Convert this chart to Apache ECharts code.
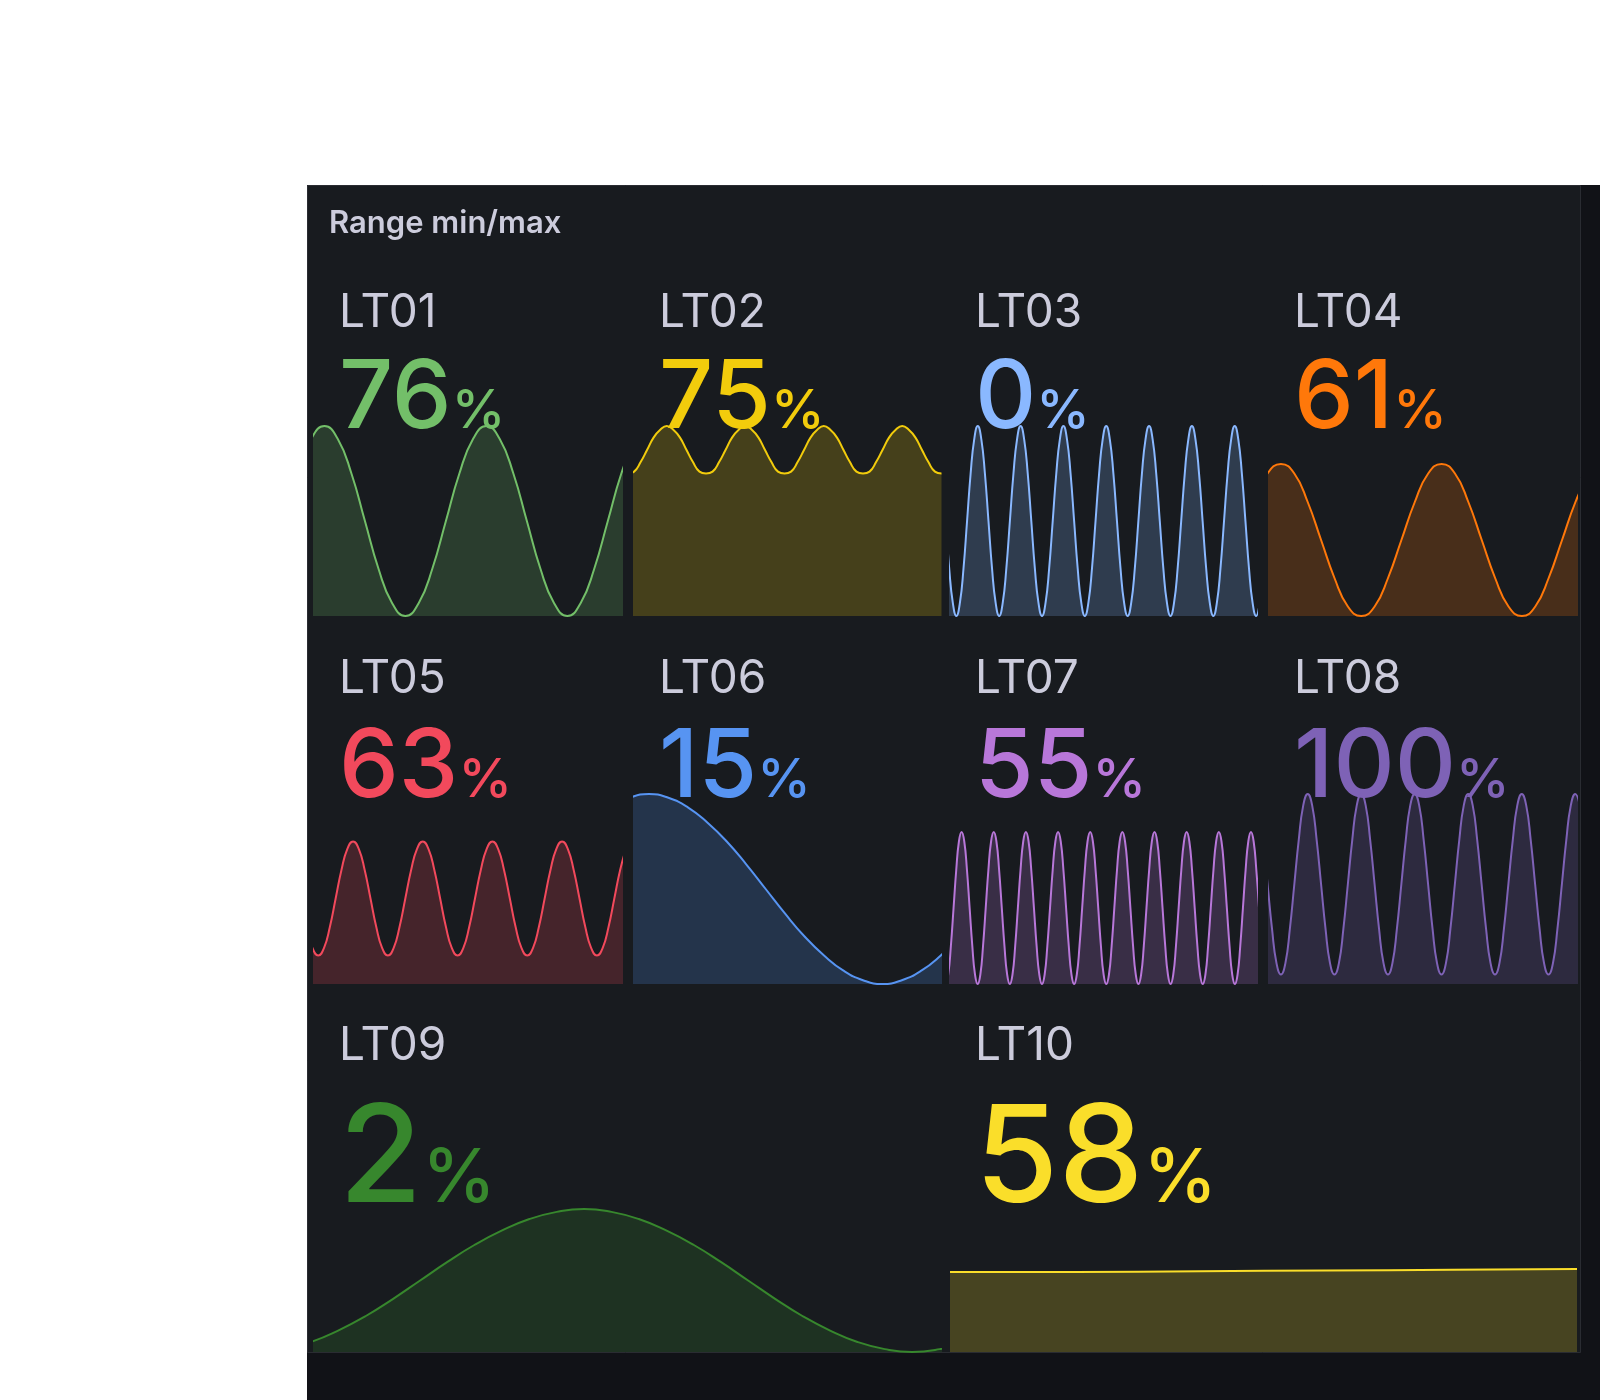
<!DOCTYPE html>
<html>
<head>
<meta charset="utf-8">
<title>Range min/max</title>
<script src="https://cdn.jsdelivr.net/npm/echarts@6/dist/echarts.min.js"></script>
<style>
  html, body { margin: 0; padding: 0; background: #ffffff; }
  #chart { width: 1600px; height: 1400px; }
</style>
</head>
<body>
<div id="chart"></div>
<script>
// --- data (values on the 0-100 range of each stat, sampled along the sparkline) ---
const names = ['LT01', 'LT02', 'LT03', 'LT04', 'LT05', 'LT06', 'LT07', 'LT08', 'LT09', 'LT10'];
const lastValues = [76, 75, 0, 61, 63, 15, 55, 100, 2, 58];
const unit = '%';

const lt01 = [75, 93, 100, 93, 75, 50, 25, 7, 0, 7, 25, 50,
              75, 93, 100, 93, 75, 50, 25, 7, 0, 7, 25, 50,
              75, 93];
const lt02 = [75, 76, 81, 87.5, 94, 98, 100, 98, 94, 87.5, 81, 76,
              75, 76, 81, 87.5, 94, 98, 100, 98, 94, 87.5, 81, 76,
              75, 76, 81, 87.5, 94, 98, 100, 98, 94, 87.5, 81, 76,
              75, 76, 81, 87.5, 94, 98, 100, 98, 94, 87.5, 81, 76,
              75];
const lt03 = [50, 25, 7, 0, 7, 25, 50, 75, 93,
              100, 93, 75, 50, 25, 7, 0, 7, 25, 50, 75, 93,
              100, 93, 75, 50, 25, 7, 0, 7, 25, 50, 75, 93,
              100, 93, 75, 50, 25, 7, 0, 7, 25, 50, 75, 93,
              100, 93, 75, 50, 25, 7, 0, 7, 25, 50, 75, 93,
              100, 93, 75, 50, 25, 7, 0, 7, 25, 50, 75, 93,
              100, 93, 75, 50, 25, 7, 0, 7, 25, 50, 75, 93,
              100, 93, 75, 50, 25, 7, 0, 7];
const lt04 = [60, 75, 80, 75, 60, 40, 20, 5, 0, 5, 20, 40,
              60, 75, 80, 75, 60, 40, 20, 5, 0, 5, 20, 40,
              60, 75];
const lt05 = [30, 19, 15, 19, 30, 45, 60, 71,
              75, 71, 60, 45, 30, 19, 15, 19, 30, 45, 60, 71,
              75, 71, 60, 45, 30, 19, 15, 19, 30, 45, 60, 71,
              75, 71, 60, 45, 30, 19, 15, 19, 30, 45, 60, 71,
              75, 71, 60, 45, 30, 19, 15, 19, 30, 45, 60, 71];
const lt06 = [93, 98, 100, 98, 93, 85, 75, 63, 50, 37, 25, 15, 7, 2, 0, 2, 7, 15, 25];
const lt07 = [0, 5, 20, 40, 60, 75, 80, 75, 60, 40, 20, 5,
              0, 5, 20, 40, 60, 75, 80, 75, 60, 40, 20, 5,
              0, 5, 20, 40, 60, 75, 80, 75, 60, 40, 20, 5,
              0, 5, 20, 40, 60, 75, 80, 75, 60, 40, 20, 5,
              0, 5, 20, 40, 60, 75, 80, 75, 60, 40, 20, 5,
              0, 5, 20, 40, 60, 75, 80, 75, 60, 40, 20, 5,
              0, 5, 20, 40, 60, 75, 80, 75, 60, 40, 20, 5,
              0, 5, 20, 40, 60, 75, 80, 75, 60, 40, 20, 5,
              0, 5, 20, 40, 60, 75, 80, 75, 60, 40, 20, 5,
              0, 5, 20, 40, 60, 75, 80, 75, 60, 40];
const lt08 = [76, 52.5, 29, 11, 5, 11, 29, 52.5, 76, 94,
              100, 94, 76, 52.5, 29, 11, 5, 11, 29, 52.5, 76, 94,
              100, 94, 76, 52.5, 29, 11, 5, 11, 29, 52.5, 76, 94,
              100, 94, 76, 52.5, 29, 11, 5, 11, 29, 52.5, 76, 94,
              100, 94, 76, 52.5, 29, 11, 5, 11, 29, 52.5, 76, 94,
              100, 94, 76, 52.5, 29, 11, 5, 11, 29, 52.5, 76, 94,
              100, 94];
const lt09 = [2, 7, 15, 25, 37, 50, 63, 75, 85, 93, 98, 100,
              98, 93, 85, 75, 63, 50, 37, 25, 15, 7, 2, 0, 2, 7];
const lt10 = [56, 56, 56.5, 57, 57.5, 58];
const seriesValues = [lt01, lt02, lt03, lt04, lt05, lt06, lt07, lt08, lt09, lt10];

// visible part of each series (in sample steps) = the time range of the panel
const xWindows = [[1.226, 24.05], [0.987, 47.925], [1.218, 87.24], [1.109, 24.116], [1.271, 54.32],
                  [1.232, 17.012], [1.671, 116.25], [1.321, 70.39], [1.118, 24.056], [0, 5]];

// --- layout / styles ---
const colors = ['#73bf69', '#f2cc0c', '#8ab8ff', '#ff780a', '#f2495c',
                '#5794f2', '#b877d9', '#7e62b6', '#37872d', '#fade2a'];
const tileLeft = [313, 633, 949, 1268, 313, 633, 949, 1268, 313, 949];
const tileRight = [623, 942, 1258, 1578, 623, 942, 1258, 1578, 942, 1578];
const tileRow = [0, 0, 0, 0, 1, 1, 1, 1, 2, 2];
const rows = [
  { labelBase: 327, valueBase: 427, chartTop: 426, chartHeight: 190, valueSize: 95, unitSize: 54 },
  { labelBase: 693, valueBase: 796, chartTop: 794, chartHeight: 190, valueSize: 95, unitSize: 54 },
  { labelBase: 1060, valueBase: 1201, chartTop: 1209, chartHeight: 143, valueSize: 135, unitSize: 74 }
];
const FONT = 'Inter, "Noto Sans", sans-serif';
const MID = 0.29; // distance from baseline to the 'middle' text baseline, in em
const textColor = '#ccccdc';

const measureCtx = document.createElement('canvas').getContext('2d');
function textWidth(str, font) {
  measureCtx.font = font;
  return measureCtx.measureText(str).width;
}

const chart = echarts.init(document.getElementById('chart'));

const grids = [], xAxes = [], yAxes = [], series = [];
const graphics = [
  { type: 'rect', silent: true, z: -20, shape: { x: 307, y: 185, width: 1293, height: 1215 }, style: { fill: '#111217' } },
  { type: 'rect', silent: true, z: -10, shape: { x: 307.5, y: 185.5, width: 1273, height: 1167 },
    style: { fill: '#181b1f', stroke: '#2a2c32', lineWidth: 1 } },
  { type: 'text', x: 329, y: 233 - 31 * MID,
    style: { text: 'Range min/max', font: '600 31px ' + FONT, fill: textColor, verticalAlign: 'middle' } }
];

names.forEach((name, i) => {
  const row = rows[tileRow[i]];
  const tx = tileLeft[i] + 26;

  grids.push({ left: tileLeft[i] + 1, top: row.chartTop, width: tileRight[i] - tileLeft[i] - 2, height: row.chartHeight });
  xAxes.push({ type: 'value', gridIndex: i, min: xWindows[i][0], max: xWindows[i][1], show: false });
  yAxes.push({ type: 'value', gridIndex: i, min: 0, max: 100, show: false });
  series.push({
    type: 'line',
    name: name,
    xAxisIndex: i,
    yAxisIndex: i,
    data: seriesValues[i].map((v, k) => [k, v]),
    smooth: true,
    showSymbol: false,
    silent: true,
    clip: true,
    lineStyle: { color: colors[i], width: 2 },
    areaStyle: { color: colors[i], opacity: 0.21 }
  });

  // name
  graphics.push({ type: 'text', x: tx, y: row.labelBase - 46 * MID,
    style: { text: name, font: '400 46px ' + FONT, fill: textColor, verticalAlign: 'middle' } });

  // value + unit
  const valueFont = '500 ' + row.valueSize + 'px ' + FONT;
  const unitFont = '500 ' + row.unitSize + 'px ' + FONT;
  const valText = String(lastValues[i]);
  graphics.push({ type: 'text', x: tx, y: row.valueBase - row.valueSize * MID,
    style: { text: valText, font: valueFont, fill: colors[i], verticalAlign: 'middle' } });
  graphics.push({ type: 'text', x: tx + textWidth(valText, valueFont), y: row.valueBase - row.unitSize * MID,
    style: { text: unit, font: unitFont, fill: colors[i], verticalAlign: 'middle' } });
});

chart.setOption({
  animation: false,
  backgroundColor: 'transparent',
  grid: grids,
  xAxis: xAxes,
  yAxis: yAxes,
  series: series,
  graphic: { elements: graphics }
});

window.addEventListener('resize', chart.resize);
</script>
</body>
</html>
